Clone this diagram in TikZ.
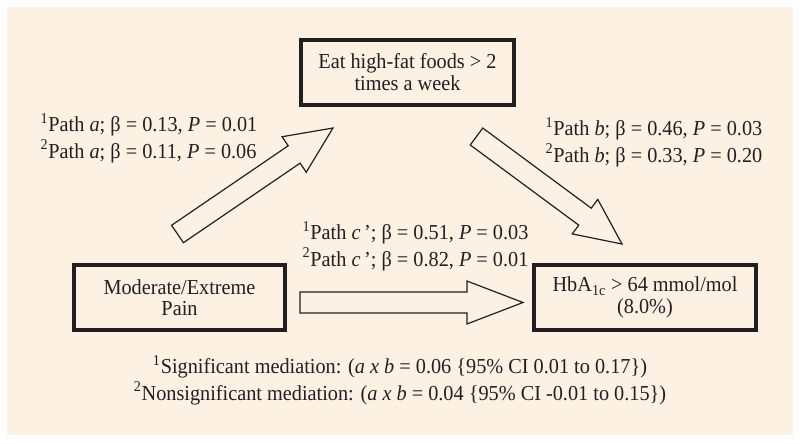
\documentclass[tikz,border=0pt]{standalone}
\usepackage{fontspec}
\setmainfont[FakeStretch=0.95]{Liberation Serif}
\usetikzlibrary{calc}
\definecolor{paper}{RGB}{253,241,227}
\definecolor{ink}{RGB}{35,31,32}

\newcommand{\fatarrow}[3]{%
  \coordinate (hb) at ($(#2)!#3!(#1)$);
  \draw[fatarrow] ($(#1)!7.9pt!90:(#2)$) -- ($(hb)!7.9pt!90:(#2)$)
    -- ($(hb)!16.1pt!90:(#2)$) -- (#2) -- ($(hb)!16.1pt!-90:(#2)$)
    -- ($(hb)!7.9pt!-90:(#2)$) -- ($(#1)!7.9pt!-90:(#2)$) -- cycle;
}

\begin{document}
\begin{tikzpicture}[x=0.75pt,y=-0.75pt,
    every node/.style={font=\fontsize{16}{20}\selectfont, text=ink},
    box/.style={draw=ink, line width=3pt, align=center, inner sep=0pt,
      minimum height=48.75pt, font=\fontsize{16}{16}\selectfont},
    fatarrow/.style={draw=ink, line width=0.9pt, fill=paper},
    pathlabel/.style={align=left, anchor=west}]
    \useasboundingbox (0,0) rectangle (800,443);
    \fill[paper] (7,7) rectangle (793,435);

    \node[box, minimum width=159.75pt] (food) at (407.5,72) {Eat high-fat foods > 2\\times a week};
    \node[box, minimum width=158.25pt] (pain) at (179.5,297.5) {Moderate/Extreme\\Pain};
    \node[box, minimum width=166.5pt] (hba) at (645,297.5) {HbA\textsubscript{1c} > 64 mmol/mol\\(8.0\%)};

    \coordinate (a0) at (177.5,234);
    \coordinate (a1) at (333,128);
    \coordinate (b0) at (476.5,136.5);
    \coordinate (b1) at (622,244);
    \coordinate (c0) at (300,302.5);
    \coordinate (c1) at (523,302.5);
    \fatarrow{a0}{a1}{35.25pt}
    \fatarrow{b0}{b1}{34.5pt}
    \fatarrow{c0}{c1}{42pt}

    \node[pathlabel] (pa) at (36,138) {\textsuperscript{1}Path \textit{a}; β = 0.13, \textit{P} = 0.01\\\textsuperscript{2}Path \textit{a}; β = 0.11, \textit{P} = 0.06};
    \node[pathlabel] (pb) at (541,142) {\textsuperscript{1}Path \textit{b}; β = 0.46, \textit{P} = 0.03\\\textsuperscript{2}Path \textit{b}; β = 0.33, \textit{P} = 0.20};
    \node[pathlabel] (pc) at (298,246) {\textsuperscript{1}Path \textit{c}\,’; β = 0.51, \textit{P} = 0.03\\\textsuperscript{2}Path \textit{c}\,’; β = 0.82, \textit{P} = 0.01};
    \node[align=center] (med) at (400,380) {\textsuperscript{1}Significant mediation: (\textit{a x b} = 0.06 \{95\% CI 0.01 to 0.17\})\\\textsuperscript{2}Nonsignificant mediation: (\textit{a x b} = 0.04 \{95\% CI -0.01 to 0.15\})};
\end{tikzpicture}
\end{document}
